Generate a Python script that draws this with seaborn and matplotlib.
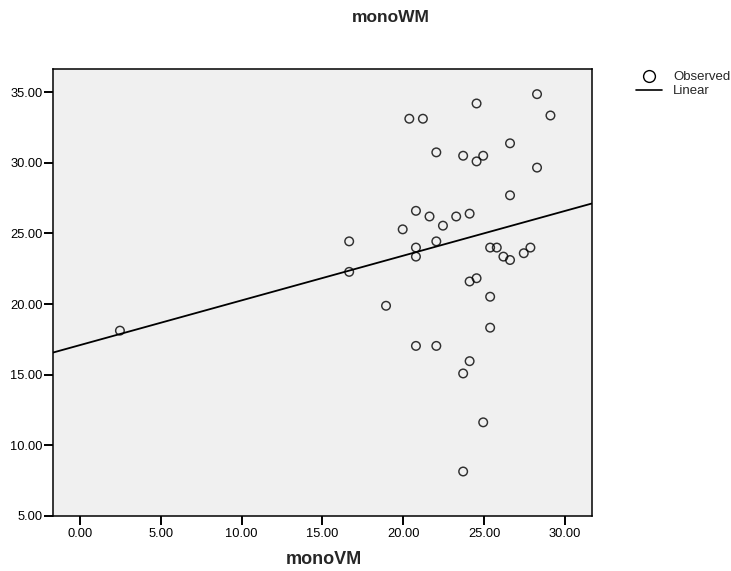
import matplotlib
matplotlib.use("Agg")
import matplotlib.pyplot as plt
from matplotlib.lines import Line2D
import seaborn as sns
import numpy as np
import pandas as pd

monoVM = [28.27, 24.53, 20.37, 21.21, 29.10, 22.04, 23.70, 24.94, 24.53, 26.60,
          28.27, 26.60, 20.78, 21.62, 23.27, 24.10, 22.45, 19.96, 16.65, 22.04,
          20.78, 20.78, 25.37, 25.78, 26.19, 26.60, 27.45, 27.86, 16.65, 24.10,
          24.53, 25.37, 18.93, 25.37, 20.78, 22.04, 24.10, 23.70, 24.94, 23.70,
          2.47]
monoWM = [34.86, 34.20, 33.12, 33.12, 33.35, 30.74, 30.50, 30.50, 30.10, 31.38,
          29.66, 27.70, 26.60, 26.20, 26.20, 26.40, 25.55, 25.29, 24.44, 24.44,
          24.00, 23.36, 24.00, 24.00, 23.36, 23.12, 23.60, 24.00, 22.28, 21.60,
          21.83, 20.52, 19.88, 18.33, 17.04, 17.04, 15.96, 15.09, 11.63, 8.15,
          18.12]
x_ticks = [0, 5, 10, 15, 20, 25, 30]
y_ticks = [5, 10, 15, 20, 25, 30, 35]
title = "monoWM"
x_label = "monoVM"
legend_labels = ["Observed", "Linear"]

df = pd.DataFrame({"monoVM": monoVM, "monoWM": monoWM})

sns.set_style("white")
plt.rcParams["font.family"] = ["Liberation Sans", "DejaVu Sans"]

W, H = 731, 571
fig = plt.figure(figsize=(W / 100, H / 100), dpi=100)
ax = fig.add_axes([53 / W, 1 - 516 / H, (592 - 53) / W, (516 - 69) / H])
ax.set_facecolor("#F0F0F0")
ax.set_xlim(-1.67, 31.67)
ax.set_ylim(5.0, 36.64)

sns.regplot(data=df, x="monoVM", y="monoWM", ax=ax, ci=None, truncate=False,
            scatter_kws=dict(s=38, facecolors="none", edgecolors="black",
                             linewidths=1.05),
            line_kws=dict(color="black", linewidth=1.3))

ax.set_xlim(-1.67, 31.67)
ax.set_ylim(5.0, 36.64)
ax.set_xticks(x_ticks)
ax.set_yticks(y_ticks)
ax.set_xticklabels([f"{v:.2f}" for v in x_ticks])
ax.set_yticklabels([f"{v:.2f}" for v in y_ticks])
ax.tick_params(axis="both", direction="out", length=6.5, width=1.4,
               color="black", labelsize=9.3, labelcolor="black",
               bottom=True, left=True)
ax.tick_params(axis="x", pad=2.0)
ax.tick_params(axis="y", pad=1.0)
for sp in ax.spines.values():
    sp.set_visible(True)
    sp.set_color("black")
    sp.set_linewidth(1.1)

ax.set_xlabel(x_label, fontsize=13, fontweight="bold")
ax.xaxis.label.set_va("center")
ax.xaxis.set_label_coords((324 - 53) / (592 - 53), -(559 - 516) / (516 - 69))
ax.set_ylabel("")
fig.text(391 / W, 1 - 18 / H, title, ha="center", va="center",
         fontsize=12.5, fontweight="bold")

handles = [Line2D([], [], marker="o", linestyle="none", markersize=8.5,
                  markerfacecolor="none", markeredgecolor="black",
                  markeredgewidth=1.0),
           Line2D([], [], color="black", linewidth=1.2)]
fig.legend(handles, legend_labels, loc="upper left",
           bbox_to_anchor=(636 / W, 1 - 71 / H), frameon=False,
           fontsize=9.5, handlelength=2.0, handletextpad=0.8,
           labelspacing=0.15, borderaxespad=0, borderpad=0)

fig.savefig("out.png", dpi=100)
